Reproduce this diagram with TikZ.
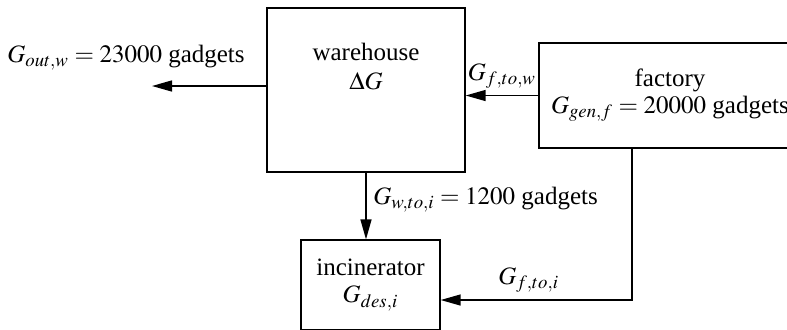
\documentclass[tikz,border=0pt]{standalone}
\usepackage{mathptmx}
\usepackage[no-math]{fontspec}
\setmainfont{Liberation Serif}
\DeclareMathSizes{12.5}{12.5}{9.4}{7}
\usetikzlibrary{arrows.meta,positioning}

\begin{document}
\begin{tikzpicture}[
  x=0.5pt, y=-0.5pt,
  every node/.style={font=\fontsize{12.5}{13.5}\selectfont},
  box/.style={draw, line width=0.65pt, inner sep=0pt, align=center},
  lbl/.style={align=center},
  flow/.style={-{Triangle[length=10pt,width=5.5pt]}, line width=0.7pt}
]
  \useasboundingbox (0,0) rectangle (787,329);

  \node[box, minimum width=99pt, minimum height=82pt] (wh) at (366,90) {};
  \node[lbl, below=14.5pt of wh.north] (whtxt) {warehouse\\[1pt]$\Delta G$};
  \node[box, minimum width=131pt, minimum height=52.5pt] (fa) at (670,95.5) {factory\\$G_{gen,f}= 20000$ gadgets};
  \node[box, minimum width=69.5pt, minimum height=45pt] (in) at (370.5,285) {incinerator\\$G_{des,i}$};

  \coordinate (wout) at (152,86);
  \coordinate (fbend) at (632,300);

  \draw[flow] (wout -| wh.west) -- (wout);
  \node[lbl] (gout) at (126,58) {$G_{out,w} = 23000$ gadgets};
  \draw[flow] (fa.west) -- (fa.west -| wh.east) node[lbl, midway, above] (gfw) {$G_{f,to,w}$};
  \draw[flow] (wh.south) -- (wh.south |- in.north) node[lbl, pos=0.41, right] (gwi) {$G_{w,to,i} = 1200$ gadgets};
  \draw[flow] (fbend |- fa.south) -- (fbend) -- (fbend -| in.east) node[lbl, pos=0.54, above] (gfi) {$G_{f,to,i}$};
\end{tikzpicture}
\end{document}
